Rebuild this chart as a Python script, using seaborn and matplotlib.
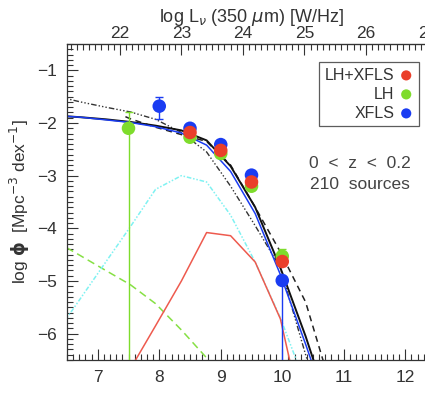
import numpy as np
import pandas as pd
import matplotlib
matplotlib.use("Agg")
import matplotlib.pyplot as plt
import seaborn as sns
from matplotlib.ticker import MultipleLocator

sns.set_style("ticks")
plt.rcParams['font.family'] = ['Liberation Sans', 'DejaVu Sans']
plt.rcParams['mathtext.fontset'] = 'dejavusans'

# ---- data ----
grid = [6.32, 6.72, 7.13, 7.53, 7.94, 8.36, 8.77, 9.16, 9.56, 9.97, 10.38, 10.79]

fit_total = [-1.86, -1.89, -1.93, -1.98, -2.05, -2.14, -2.33, -2.82, -3.60, -4.75, -6.05, -7.50]
fit_xfls = [-1.86, -1.89, -1.94, -1.99, -2.07, -2.19, -2.42, -2.92, -3.72, -4.88, -6.20, -7.60]
fit_dashed_x = [7.45, 7.53, 7.94, 8.36, 8.77, 9.16, 9.56, 9.97, 10.38, 10.79]
fit_dashed = [-1.88, -1.92, -2.08, -2.22, -2.35, -2.80, -3.60, -4.45, -5.40, -7.00]
model_dd = [-1.49, -1.60, -1.70, -1.79, -1.93, -2.18, -2.55, -3.20, -3.95, -4.75, -6.40, -8.00]
comp_cyan = [-6.00, -5.33, -4.64, -3.97, -3.26, -3.00, -3.12, -3.75, -4.64, -5.70, -6.97, -8.20]
comp_green = [-4.25, -4.52, -4.80, -5.07, -5.43, -5.93, -6.46, -7.00, -7.60, -8.2, -8.8, -9.4]
comp_red_x = [7.53, 7.94, 8.36, 8.77, 9.16, 9.56, 9.97, 10.38]
comp_red = [-6.67, -5.85, -5.00, -4.08, -4.14, -4.64, -5.72, -7.85]

lh_x = [7.5, 8.5, 9.0, 9.5, 10.0]
lh_y = [-2.10, -2.27, -2.58, -3.20, -4.53]
lh_lo = [5.00, 0.05, 0.05, 0.05, 0.10]
lh_hi = [0.30, 0.05, 0.05, 0.05, 0.13]

xfls_x = [8.0, 8.5, 9.0, 9.5, 10.0]
xfls_y = [-1.68, -2.10, -2.41, -2.99, -4.99]
xfls_lo = [0.25, 0.06, 0.05, 0.05, 2.00]
xfls_hi = [0.17, 0.06, 0.05, 0.05, 0.05]

both_x = [8.5, 9.0, 9.5, 10.0]
both_y = [-2.18, -2.52, -3.12, -4.63]
both_err = [0.05, 0.05, 0.05, 0.08]

top_ticks = [22, 23, 24, 25, 26, 27]
offset = 14.64  # log L_nu [W/Hz] = log nuL_nu [Lsun] + offset

# ---- colours ----
c_red = "#ea3f2a"
c_green = "#7edc2c"
c_blue = "#1a3cf2"
c_redline = "#ee5a4e"
c_cyan = "#7ff2f2"
c_gline = "#86e044"
tc = "#333333"

fig = plt.figure(figsize=(4.25, 3.93), dpi=100)
ax = fig.add_axes([67/425, 33/393, 369/425, 316/393])

def line(x, y, **kw):
    df = pd.DataFrame({"x": x, "y": y})
    sns.lineplot(data=df, x="x", y="y", ax=ax, sort=False, estimator=None, legend=False, **kw)

line(grid, comp_green, color=c_gline, lw=1.1, dashes=(5, 3))
line(grid, comp_cyan, color=c_cyan, lw=1.1, dashes=(3, 1.2, 1, 1.2, 1, 1.2))
line(comp_red_x, comp_red, color=c_redline, lw=1.1)
line(grid, model_dd, color="#333333", lw=1.0, dashes=(4, 1.5, 1, 1.5, 1, 1.5, 1, 1.5))
line(fit_dashed_x, fit_dashed, color="#222222", lw=1.1, dashes=(4, 3))
line(grid, fit_total, color="#111111", lw=1.4)
line(grid, fit_xfls, color=c_blue, lw=1.1)

# error bars
ax.errorbar(lh_x, lh_y, yerr=[lh_lo, lh_hi], fmt="none", ecolor=c_green, elinewidth=1.0, capsize=3, zorder=4)
ax.errorbar(xfls_x, xfls_y, yerr=[xfls_lo, xfls_hi], fmt="none", ecolor=c_blue, elinewidth=1.0, capsize=3, zorder=4)
ax.errorbar(both_x, both_y, yerr=both_err, fmt="none", ecolor=c_red, elinewidth=1.0, capsize=3, zorder=4)

ms = 95
sns.scatterplot(x=lh_x, y=lh_y, ax=ax, color=c_green, s=ms, edgecolor="none", zorder=5, label="LH")
sns.scatterplot(x=xfls_x, y=xfls_y, ax=ax, color=c_blue, s=ms, edgecolor="none", zorder=6, label="XFLS")
sns.scatterplot(x=both_x, y=both_y, ax=ax, color=c_red, s=ms, edgecolor="none", zorder=7, label="LH+XFLS")

ax.set_xlim(6.5, 12.5)
ax.set_ylim(-6.5, -0.5)

ax.xaxis.set_major_locator(MultipleLocator(1))
ax.xaxis.set_minor_locator(MultipleLocator(0.1))
ax.yaxis.set_major_locator(MultipleLocator(1))
ax.yaxis.set_minor_locator(MultipleLocator(0.1))
ax.tick_params(which="both", direction="in", colors=tc, labelcolor=tc, width=0.8, top=False, right=False)
ax.tick_params(which="major", length=8, labelsize=12.5, pad=7)
ax.tick_params(which="minor", length=4)
ax.set_yticks([-6, -5, -4, -3, -2, -1])
ax.set_yticklabels(["\u22126", "\u22125", "\u22124", "\u22123", "\u22122", "\u22121"])
ax.set_xticks([7, 8, 9, 10, 11, 12])
for s in ["left", "bottom", "top"]:
    ax.spines[s].set_color(tc)
    ax.spines[s].set_linewidth(0.9)
ax.spines["right"].set_visible(False)

ax.set_ylabel(r"log $\mathbf{\phi}$  [Mpc$^{-3}$ dex$^{-1}$]", fontsize=12.5, color=tc, labelpad=4)
ax.set_xlabel(r"log $\nu$L$_\nu$ (350 $\mu$m) [L$_\odot$]", fontsize=13.5, color=tc, labelpad=6)

top = ax.secondary_xaxis("top", functions=(lambda v: v + offset, lambda v: v - offset))
top.set_xticks(top_ticks)
top.xaxis.set_minor_locator(MultipleLocator(0.1))
top.tick_params(which="both", direction="in", colors=tc, labelcolor=tc, width=0.8)
top.tick_params(which="major", length=8, labelsize=12.5, pad=2)
top.tick_params(which="minor", length=4)
top.spines["top"].set_color(tc)
top.set_xlabel(r"log L$_\nu$ (350 $\mu$m) [W/Hz]", fontsize=13, color=tc, labelpad=3)

handles, labels = ax.get_legend_handles_labels()
order = [labels.index("LH+XFLS"), labels.index("LH"), labels.index("XFLS")]
leg = ax.legend([handles[i] for i in order], [labels[i] for i in order],
                loc="upper right", bbox_to_anchor=(419/425, 1 - 62/393),
                bbox_transform=fig.transFigure, markerfirst=False,
                frameon=True, fancybox=False, edgecolor="#333333", fontsize=11.5,
                handletextpad=0.3, borderpad=0.35, labelspacing=0.25, handlelength=0.9,
                borderaxespad=0, markerscale=0.75)
leg.get_frame().set_linewidth(0.9)
for t in leg.get_texts():
    t.set_color("#333333")

fig.text(360/425, 1 - 164/393, "0  <  z  <  0.2", ha="center", va="center", fontsize=12.5, color="#444444")
fig.text(360/425, 1 - 185/393, "210  sources", ha="center", va="center", fontsize=12.5, color="#444444")

fig.savefig("out.png", dpi=100)
